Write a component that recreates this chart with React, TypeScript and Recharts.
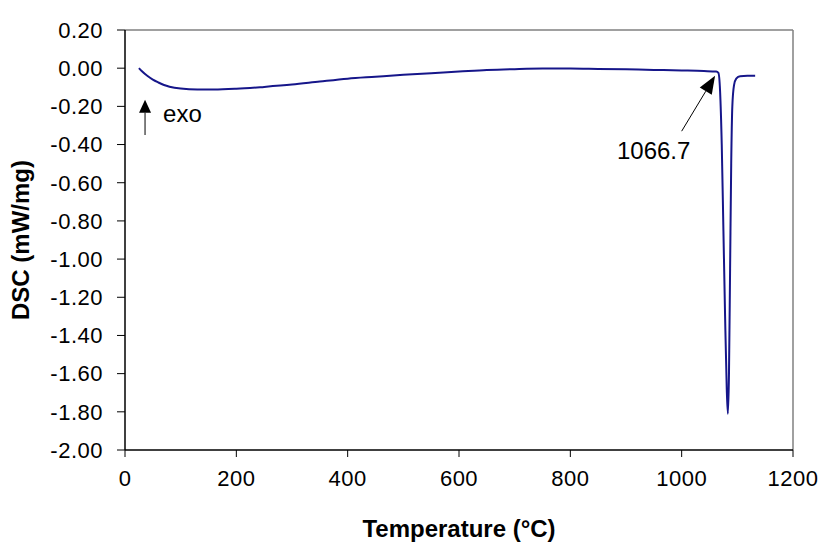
import React from 'react';
import { LineChart, Line, XAxis, YAxis, ReferenceLine, Label } from 'recharts';

// DSC trace
const temperature = [
  25, 30, 40, 50, 60, 70, 80, 100, 130, 160, 200, 250, 300, 350, 400, 450, 500, 550, 600, 650,
  700, 750, 800, 850, 900, 950, 1000, 1040, 1062, 1066, 1069, 1072, 1075, 1078, 1081, 1083,
  1085, 1087, 1089, 1091, 1094, 1098, 1105, 1118, 1132,
];
const dsc = [
  0.0, -0.015, -0.04, -0.06, -0.075, -0.088, -0.097, -0.107, -0.112, -0.112, -0.108, -0.098,
  -0.086, -0.07, -0.055, -0.045, -0.035, -0.026, -0.018, -0.01, -0.005, -0.002, -0.002, -0.004,
  -0.006, -0.009, -0.012, -0.015, -0.018, -0.025, -0.12, -0.4, -0.85, -1.3, -1.68, -1.81, -1.6,
  -1.05, -0.5, -0.2, -0.09, -0.055, -0.042, -0.04, -0.04,
];

const xTicks = [0, 200, 400, 600, 800, 1000, 1200];
const yTicks = [0.2, 0, -0.2, -0.4, -0.6, -0.8, -1.0, -1.2, -1.4, -1.6, -1.8, -2.0];

// annotation arrows: [tail, tip] in data units
const exoArrow = [{ x: 36, y: -0.35 }, { x: 36, y: -0.165 }];
const peakArrow = [{ x: 1000, y: -0.33 }, { x: 1060, y: -0.04 }];
const peakLabel = '1066.7';

const chartData = temperature.map((t, i) => ({ t, v: dsc[i] }));

const FONT = '"Liberation Sans", Arial, sans-serif';

const Arrow = (p: any) => {
  const { x1, y1, x2, y2, len, half, text, tx, ty, anchor } = p;
  const dx = x2 - x1;
  const dy = y2 - y1;
  const d = Math.sqrt(dx * dx + dy * dy) || 1;
  const ux = dx / d;
  const uy = dy / d;
  const bx = x2 - ux * len;
  const by = y2 - uy * len;
  const pts = `${x2},${y2} ${bx - uy * half},${by + ux * half} ${bx + uy * half},${by - ux * half}`;
  return (
    <g>
      <line x1={x1} y1={y1} x2={bx} y2={by} stroke="#000" strokeWidth={1} />
      <polygon points={pts} fill="#000" />
      <text x={x1 + tx} y={y1 + ty} textAnchor={anchor} fontFamily={FONT} fontSize={24} fill="#000">
        {text}
      </text>
    </g>
  );
};

const YTitle = (props: any) => {
  const vb = props.viewBox || {};
  const cy = (vb.y ?? 30) + (vb.height ?? 420) / 2;
  return (
    <text
      x={20}
      y={cy}
      transform={`rotate(-90 20 ${cy})`}
      textAnchor="middle"
      dominantBaseline="central"
      fontFamily={FONT}
      fontSize={24}
      fontWeight="bold"
      fill="#000"
    >
      DSC (mW/mg)
    </text>
  );
};

export default function App() {
  const tickStyle = { fontFamily: FONT, fontSize: 22, fill: '#000', letterSpacing: 0.5 };
  return (
    <div style={{ position: 'absolute', left: 0, top: 0, background: '#fff' }}>
      <LineChart width={824} height={542} data={chartData} margin={{ top: 30, right: 31, bottom: 0, left: 0 }}>
        <XAxis
          dataKey="t"
          type="number"
          domain={[0, 1200]}
          ticks={xTicks}
          height={92}
          tickSize={7}
          tickMargin={13}
          tick={tickStyle}
          axisLine={{ stroke: '#000', strokeWidth: 1.5 }}
          tickLine={{ stroke: '#000' }}
        >
          <Label
            value="Temperature (°C)"
            position="insideBottom"
            offset={5}
            style={{ fontFamily: FONT, fontSize: 24, fontWeight: 'bold', fill: '#000' }}
          />
        </XAxis>
        <YAxis
          type="number"
          domain={[-2, 0.2]}
          ticks={yTicks}
          width={125}
          tickSize={8}
          tickMargin={14}
          tick={tickStyle}
          tickFormatter={(v: number) => v.toFixed(2)}
          axisLine={{ stroke: '#000', strokeWidth: 1.5 }}
          tickLine={{ stroke: '#000' }}
          interval={0}
        >
          <Label content={<YTitle />} />
        </YAxis>
        <ReferenceLine y={0.2} stroke="#808080" strokeWidth={1.5} />
        <ReferenceLine x={1200} stroke="#808080" strokeWidth={1.5} />
        <ReferenceLine
          segment={exoArrow}
          shape={(p: any) => <Arrow {...p} len={13} half={6} text="exo" tx={18} ty={-13} anchor="start" />}
        />
        <ReferenceLine
          segment={peakArrow}
          shape={(p: any) => (
            <Arrow {...p} len={18} half={7} text={peakLabel} tx={-28} ty={28} anchor="middle" />
          )}
        />
        <Line
          type="monotone"
          dataKey="v"
          stroke="#16168a"
          strokeWidth={2}
          dot={false}
          isAnimationActive={false}
        />
      </LineChart>
    </div>
  );
}
